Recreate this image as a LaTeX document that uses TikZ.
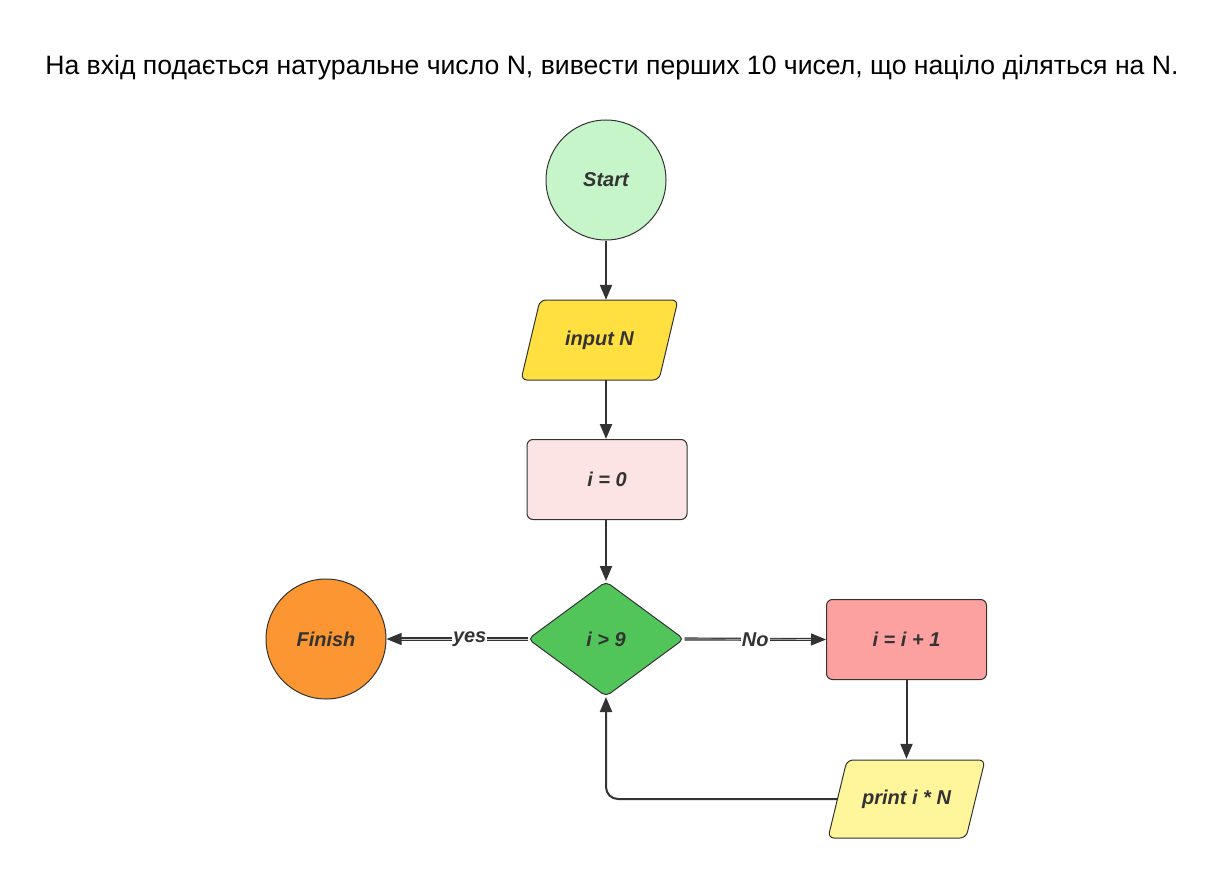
\documentclass[tikz,border=0pt]{standalone}
\usepackage{fontspec}
\setmainfont{Liberation Sans}
\usetikzlibrary{shapes.geometric,arrows.meta}
\definecolor{ink}{HTML}{333333}
\definecolor{startc}{HTML}{C5F5C8}
\definecolor{inputc}{HTML}{FFE040}
\definecolor{zeroc}{HTML}{FDE4E4}
\definecolor{decc}{HTML}{52C55A}
\definecolor{finc}{HTML}{FB9632}
\definecolor{incc}{HTML}{FDA0A0}
\definecolor{printc}{HTML}{FFF59A}
\tikzset{
  lbl/.style={font=\fontsize{20}{22}\selectfont\bfseries\itshape, text=ink},
  term/.style={circle, draw=ink, line width=1pt, minimum size=120pt, inner sep=0pt, lbl},
  procbox/.style={rectangle, rounded corners=6pt, draw=ink, line width=1pt, minimum width=160pt, minimum height=80pt, lbl},
  ioshape/.style={draw=ink, line width=1pt, rounded corners=6pt},
  iotext/.style={rectangle, minimum width=138pt, minimum height=80pt, inner sep=0pt, lbl},
  decbox/.style={diamond, aspect=1.36, rounded corners=5pt, draw=ink, line width=1pt, minimum width=156pt, minimum height=115pt, inner sep=0pt, lbl},
  conn/.style={draw=ink, line width=2pt, -{Triangle[length=15pt,width=12pt]}},
  dconn/.style={draw=ink, double=white!75!ink, double distance=0.7pt, line width=1.2pt, -{Triangle[length=15pt,width=12pt]}},
  clbl/.style={fill=white, inner sep=1pt, lbl}
}
\begin{document}
\begin{tikzpicture}[x=1pt,y=-1pt]
\useasboundingbox[fill=white] (0,0) rectangle (1224,880);
\node[font=\fontsize{26.6}{30}\selectfont, text=black] (title) at (612,68) {На вхід подається натуральне число N, вивести перших 10 чисел, що націло діляться на N.};
\node[term, fill=startc] (start) at (606,180) {Start};
% input parallelogram
\filldraw[ioshape, fill=inputc] (540,300) -- (678,300) -- (659,380) -- (521,380) -- cycle;
\node[iotext] (input) at (599.5,340) {input N};
\node[procbox, fill=zeroc] (zero) at (607,479.5) {i = 0};
\node[decbox, fill=decc] (dec) at (606,639) {i > 9};
\node[term, fill=finc] (finish) at (326,639) {Finish};
\node[procbox, fill=incc] (inc) at (906.5,639.5) {i = i + 1};
% print parallelogram
\filldraw[ioshape, fill=printc] (847,760) -- (985,760) -- (966,838) -- (828,838) -- cycle;
\node[iotext] (print) at (906.5,799) {print i * N};
\coordinate (printw) at (837.5,799);
\draw[conn] (start) -- (start|-input.north);
\draw[conn] (input.south-|start) -- (start|-zero.north);
\draw[conn] (zero.south-|start) -- (dec.north);
\draw[dconn] (dec.west) -- node[clbl, pos=0.41]{yes} (finish.east);
\draw[dconn] (dec.east) -- node[clbl]{No} (inc.west);
\draw[conn] (inc.south) -- (print.north);
\draw[conn, rounded corners=12pt] (printw) -| (dec.south);
\end{tikzpicture}
\end{document}
